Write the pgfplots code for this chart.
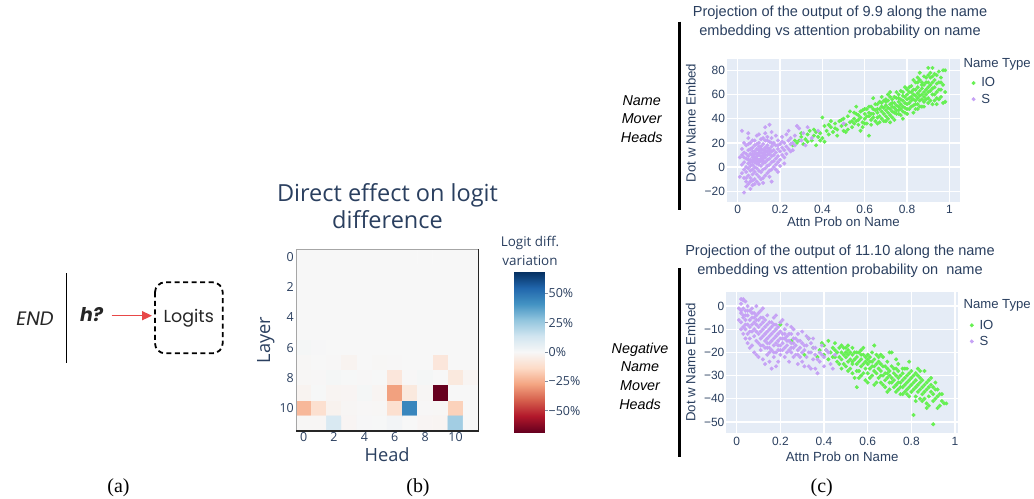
\documentclass[border=0pt]{standalone}
\usepackage{fontspec}
\setmainfont{Open Sans}
\newfontfamily\arialf{Liberation Sans}
\newfontfamily\timesf{Liberation Serif}
\newfontfamily\popf{Poppins}
\usepackage{pgfplots}
\pgfplotsset{compat=1.18}
\usetikzlibrary{arrows.meta}
\definecolor{plotbg}{RGB}{229,236,246}
\definecolor{ptxt}{RGB}{42,63,95}
\definecolor{iog}{RGB}{102,240,82}
\definecolor{spu}{RGB}{198,162,245}
\definecolor{arrowred}{RGB}{232,72,72}
\pgfplotsset{
 colormap={rdbu}{rgb255=(103,0,31) rgb255=(178,24,43) rgb255=(214,96,77) rgb255=(244,165,130) rgb255=(253,219,199) rgb255=(247,247,247) rgb255=(209,229,240) rgb255=(146,197,222) rgb255=(67,147,195) rgb255=(33,102,172) rgb255=(5,48,97)},
 scat/.style={
  scale only axis, anchor=north west,
  axis background/.style={fill=plotbg},
  axis line style={draw=none},
  tick style={draw=none},
  grid=major, grid style={white, line width=1.3bp},
  ticklabel style={font=\arialf\fontsize{12}{12}\selectfont, text=ptxt},
  yticklabel style={inner sep=1.5bp},
  label style={font=\arialf\fontsize{13.3}{13.3}\selectfont, text=ptxt},
  xtick={0,0.2,0.4,0.6,0.8,1}, xticklabels={0,0.2,0.4,0.6,0.8,1},
  xlabel={Attn Prob on Name}, ylabel={Dot w Name Embed},
  legend style={draw=none, fill=none, font=\arialf\fontsize{13.2}{13.2}\selectfont, text=ptxt, anchor=north west, row sep=1.5bp},
  legend cell align=left,
  legend image code/.code={\draw[#1] plot coordinates {(0bp,0bp)}; \path (-2bp,0bp) (5.5bp,0bp);},
 },
 iostyle/.style={only marks, mark=*, color=iog, mark size=1.8bp},
 sstyle/.style={only marks, mark=*, color=spu, mark size=1.8bp},
}
\begin{document}
\begin{tikzpicture}
\path[use as bounding box] (0,0) rectangle (1034bp,-499bp);
% ---------- panel (a)
\node[font=\popf\itshape\fontsize{19.5}{19.5}\selectfont, text=black!85] at (35bp,-319bp) {END};
\draw[line width=1.3bp] (66.7bp,-273.3bp) -- (66.7bp,-362.7bp);
\node[font=\popf\bfseries\itshape\fontsize{19}{19}\selectfont, text=black!85] at (91.7bp,-315bp) {h?};
\draw[arrowred, line width=1.5bp, -{Triangle[length=10bp,width=9bp]}] (111.7bp,-315.7bp) -- (152bp,-315.7bp);
\draw[dash pattern=on 5bp off 3.5bp, line width=1.8bp, rounded corners=10bp] (155bp,-282.3bp) rectangle (222.7bp,-353.3bp);
\node[font=\popf\fontsize{17.5}{17.5}\selectfont, text=black!85] at (188.8bp,-318bp) {Logits};
\node[font=\timesf\fontsize{20}{20}\selectfont] at (118.5bp,-488bp) {(a)};
% ---------- panel (b)
\node[align=center, font=\fontsize{23.6}{27.3}\selectfont, text=ptxt] at (387.5bp,-206bp) {Direct effect on logit\\difference};
\node[align=center, font=\fontsize{13.5}{19}\selectfont, text=ptxt] at (530bp,-251bp) {Logit diff.\\variation};
\begin{axis}[at={(296bp,-249.3bp)}, anchor=north west, scale only axis, width=182.3bp, height=181.7bp,
 xmin=-0.5, xmax=11.5, ymin=-0.5, ymax=11.5, y dir=reverse, clip=false,
 xtick={0,2,4,6,8,10}, ytick={0,2,4,6,8,10},
 /pgf/number format/assume math mode=true,
 tick style={draw=none}, axis line style={draw=none},
 ticklabel style={font=\fontsize{12.5}{12.5}\selectfont, text=ptxt},
 xticklabel style={inner sep=1bp},
 yticklabel style={inner sep=2bp},
 xlabel={Head}, ylabel={Layer},
 label style={font=\fontsize{18.3}{18.3}\selectfont, text=ptxt},
 xlabel style={at={(axis description cs:0.5,0)}, anchor=center, yshift=-24bp},
 ylabel style={at={(axis description cs:-0.166,0.5)}, anchor=center},
 point meta min=-68, point meta max=68,
]
\addplot[matrix plot*, mesh/cols=12, mesh/rows=12, point meta=explicit] coordinates {
(0,0)[0] (1,0)[0] (2,0)[0] (3,0)[0] (4,0)[0] (5,0)[0] (6,0)[0] (7,0)[0] (8,0)[0] (9,0)[0] (10,0)[0] (11,0)[0]
(0,1)[0] (1,1)[0] (2,1)[0] (3,1)[0] (4,1)[0] (5,1)[0] (6,1)[0] (7,1)[0] (8,1)[0] (9,1)[0] (10,1)[0] (11,1)[0]
(0,2)[0] (1,2)[0] (2,2)[0] (3,2)[0] (4,2)[0] (5,2)[0] (6,2)[0] (7,2)[0] (8,2)[0] (9,2)[0] (10,2)[0] (11,2)[0]
(0,3)[0] (1,3)[0] (2,3)[0] (3,3)[0] (4,3)[0] (5,3)[0] (6,3)[0] (7,3)[0] (8,3)[0] (9,3)[0] (10,3)[0] (11,3)[0]
(0,4)[0] (1,4)[0] (2,4)[0] (3,4)[0] (4,4)[0] (5,4)[0] (6,4)[0] (7,4)[0] (8,4)[0] (9,4)[0] (10,4)[0] (11,4)[0]
(0,5)[0] (1,5)[0] (2,5)[0] (3,5)[0] (4,5)[0] (5,5)[0] (6,5)[0] (7,5)[0] (8,5)[0] (9,5)[0] (10,5)[0] (11,5)[0]
(0,6)[1] (1,6)[0.5] (2,6)[0] (3,6)[0] (4,6)[0] (5,6)[0] (6,6)[0] (7,6)[0] (8,6)[0] (9,6)[0] (10,6)[0] (11,6)[0]
(0,7)[-0.5] (1,7)[0] (2,7)[-0.3] (3,7)[-2] (4,7)[0] (5,7)[-0.5] (6,7)[-0.3] (7,7)[0] (8,7)[0] (9,7)[-8] (10,7)[0] (11,7)[0]
(0,8)[-0.5] (1,8)[-0.3] (2,8)[1] (3,8)[0.3] (4,8)[-0.2] (5,8)[0.3] (6,8)[-8] (7,8)[-0.3] (8,8)[1] (9,8)[0] (10,8)[-7] (11,8)[-1.5]
(0,9)[-2] (1,9)[0.3] (2,9)[-1.5] (3,9)[-1.2] (4,9)[1] (5,9)[-1.5] (6,9)[-28] (7,9)[-7] (8,9)[-0.8] (9,9)[-68] (10,9)[0.2] (11,9)[0]
(0,10)[-22.4] (1,10)[-11] (2,10)[-2.5] (3,10)[-0.8] (4,10)[-0.3] (5,10)[-0.5] (6,10)[-11] (7,10)[44.7] (8,10)[-0.3] (9,10)[-0.5] (10,10)[-15.9] (11,10)[0]
(0,11)[-0.5] (1,11)[-0.8] (2,11)[10.7] (3,11)[-1.2] (4,11)[0.5] (5,11)[0.3] (6,11)[2] (7,11)[0] (8,11)[-1.2] (9,11)[-1.5] (10,11)[23.8] (11,11)[0]
};
\draw[gray!70, line width=1bp] (axis cs:-0.5,11.5) -- (axis cs:-0.5,-0.5) -- (axis cs:11.5,-0.5);
\draw[black!85, line width=1.2bp] (axis cs:11.5,-0.5) -- (axis cs:11.5,11.5) -- (axis cs:-0.5,11.5);
\end{axis}
% colour scale
\begin{axis}[at={(514bp,-272bp)}, anchor=north west, scale only axis, width=30bp, height=160bp,
 xmin=0, xmax=1, ymin=-68, ymax=68, xtick=\empty,
 ytick={-50,-25,0,25,50}, yticklabels={−50\%,−25\%,0\%,25\%,50\%},
 ytick pos=right, yticklabel pos=right, tick align=outside, major tick length=4bp,
 ytick style={draw=ptxt!60, line width=0.7bp}, axis line style={draw=none},
 yticklabel style={font=\fontsize{12.5}{12.5}\selectfont, text=ptxt, inner sep=0.5bp},
 point meta min=-68, point meta max=68,
]
\addplot[surf, shader=interp, mesh/rows=11, mesh/cols=2, point meta=explicit] coordinates {
(0,-68)[-68] (1,-68)[-68]
(0,-54.4)[-54.4] (1,-54.4)[-54.4]
(0,-40.8)[-40.8] (1,-40.8)[-40.8]
(0,-27.2)[-27.2] (1,-27.2)[-27.2]
(0,-13.6)[-13.6] (1,-13.6)[-13.6]
(0,0)[0] (1,0)[0]
(0,13.6)[13.6] (1,13.6)[13.6]
(0,27.2)[27.2] (1,27.2)[27.2]
(0,40.8)[40.8] (1,40.8)[40.8]
(0,54.4)[54.4] (1,54.4)[54.4]
(0,68)[68] (1,68)[68]
};
\end{axis}
\node[font=\timesf\fontsize{20}{20}\selectfont] at (418bp,-488bp) {(b)};
% ---------- panel (c) top
\draw[line width=2.5bp] (679.3bp,-21.7bp) -- (679.3bp,-210bp);
\node[align=center, font=\arialf\itshape\fontsize{14.4}{18.3}\selectfont] at (641.7bp,-119bp) {Name\\Mover\\Heads};
\node[align=center, font=\arialf\fontsize{14.6}{19}\selectfont, text=ptxt] at (840bp,-22.5bp) {Projection of the output of 9.9 along the name\\embedding vs attention probability on name};
\node[anchor=west, inner sep=0pt, font=\arialf\fontsize{13.2}{13.2}\selectfont, text=ptxt] at (963.3bp,-64bp) {Name Type};
\begin{axis}[scat, at={(726.7bp,-59.3bp)}, width=233.3bp, height=142.4bp,
 xmin=-0.052, xmax=1.05, ymin=-28.6, ymax=89.1,
 ytick={-20,0,20,40,60,80}, yticklabels={−20,0,20,40,60,80},
 xlabel style={at={(axis description cs:0.5,0)}, anchor=center, yshift=-20bp},
 ylabel style={at={(axis description cs:-0.154,0.553)}, anchor=center},
 legend style={at={(1.035,0.9)}},
]
\addplot[iostyle] coordinates {
(0.26,18) (0.27,22) (0.28,20) (0.29,22) (0.30,25) (0.31,19) (0.32,23) (0.33,27) (0.34,30) (0.35,22) (0.36,26) (0.37,18) (0.37,29) (0.38,25) (0.39,28) (0.40,41) (0.40,24) (0.41,21) (0.42,30) (0.43,27)
(0.44,33) (0.45,29) (0.46,36) (0.47,31) (0.48,38) (0.49,34) (0.50,30) (0.50,40) (0.51,35) (0.52,42) (0.53,37) (0.54,33) (0.55,40) (0.55,45) (0.56,38) (0.57,43) (0.57,35) (0.58,41) (0.59,47) (0.59,37)
(0.60,44) (0.60,40) (0.61,36) (0.61,48) (0.62,42) (0.62,26) (0.62,45) (0.63,39) (0.63,50) (0.64,44) (0.64,41) (0.65,47) (0.65,38) (0.66,52) (0.66,45) (0.67,42) (0.67,48) (0.68,46) (0.68,53) (0.68,40)
(0.69,49) (0.69,44) (0.70,51) (0.70,47) (0.70,42) (0.71,55) (0.71,49) (0.71,45) (0.72,52) (0.72,48) (0.72,43) (0.73,50) (0.73,56) (0.73,46) (0.74,53) (0.74,49) (0.74,58) (0.75,51) (0.75,47) (0.75,44)
(0.76,54) (0.76,50) (0.76,60) (0.77,52) (0.77,48) (0.77,56) (0.78,55) (0.78,50) (0.78,62) (0.78,46) (0.79,58) (0.79,53) (0.79,49) (0.80,60) (0.80,56) (0.80,52) (0.80,64) (0.81,57) (0.81,53) (0.81,48)
(0.82,62) (0.82,58) (0.82,55) (0.82,67) (0.83,60) (0.83,56) (0.83,51) (0.84,64) (0.84,59) (0.84,55) (0.84,70) (0.85,61) (0.85,57) (0.85,66) (0.85,52) (0.86,63) (0.86,59) (0.86,55) (0.86,72) (0.87,65)
(0.87,60) (0.87,56) (0.88,68) (0.88,62) (0.88,58) (0.88,54) (0.89,70) (0.89,64) (0.89,60) (0.89,56) (0.90,82) (0.90,66) (0.90,62) (0.90,57) (0.91,74) (0.91,68) (0.91,63) (0.91,55) (0.92,82) (0.92,70)
(0.92,65) (0.92,52) (0.93,72) (0.93,66) (0.93,60) (0.94,76) (0.94,69) (0.94,62) (0.95,79) (0.95,70) (0.95,56) (0.96,74) (0.96,64) (0.97,80) (0.97,53) (0.98,80) (0.98,54) (0.88,75) (0.86,78) (0.83,72)
(0.79,66) (0.75,62) (0.72,58) (0.69,55) (0.66,36) (0.58,30) (0.64,57) (0.53,46) (0.47,26) (0.44,38) (0.51,29) (0.56,50) (0.60,36) (0.67,54) (0.70,38) (0.73,41) (0.76,44) (0.81,62) (0.84,48) (0.87,50)
(0.90,70) (0.93,55) (0.85,74) (0.77,63) (0.71,60)
(0.55,36) (0.56,44) (0.58,46) (0.59,33) (0.61,42) (0.62,50) (0.63,35) (0.64,48) (0.65,52) (0.66,41) (0.67,37) (0.68,58) (0.69,38) (0.70,56) (0.71,40) (0.72,62) (0.73,53) (0.74,45) (0.75,57) (0.76,47)
(0.77,43) (0.78,59) (0.79,45) (0.80,48) (0.81,66) (0.82,50) (0.83,64) (0.84,52) (0.85,70) (0.86,50) (0.87,70) (0.88,50) (0.89,74) (0.90,53) (0.91,78) (0.92,60) (0.93,77) (0.94,57) (0.95,64) (0.96,58)
(0.97,68) (0.98,62) (0.96,70) (0.94,52) (0.92,75) (0.90,76) (0.87,68) (0.85,48) (0.83,45) (0.80,44) (0.78,40) (0.76,57) (0.74,39) (0.72,37) (0.70,54) (0.68,50) (0.66,48) (0.63,44) (0.60,48) (0.57,39)
(0.54,38) (0.52,31) (0.49,39) (0.46,32) (0.43,35) (0.41,34) (0.39,22) (0.36,31) (0.33,21) (0.30,28)
};
\addlegendentry{IO}
\addplot[sstyle] coordinates {
(0.02,30) (0.03,-21) (0.06,-18) (0.01,8) (0.02,2) (0.02,-5) (0.03,12) (0.03,4) (0.03,-2) (0.03,-9) (0.04,18) (0.04,7) (0.04,0) (0.04,-4) (0.04,-12) (0.05,24) (0.05,14) (0.05,9) (0.05,3) (0.05,-1)
(0.05,-7) (0.05,-14) (0.06,20) (0.06,11) (0.06,6) (0.06,1) (0.06,-3) (0.06,-9) (0.07,16) (0.07,10) (0.07,5) (0.07,2) (0.07,-2) (0.07,-6) (0.07,22) (0.08,13) (0.08,8) (0.08,4) (0.08,0) (0.08,-4)
(0.08,-10) (0.08,18) (0.09,26) (0.09,15) (0.09,11) (0.09,7) (0.09,3) (0.09,-1) (0.09,-6) (0.10,20) (0.10,14) (0.10,10) (0.10,6) (0.10,2) (0.10,-3) (0.10,-8) (0.11,17) (0.11,12) (0.11,9) (0.11,5)
(0.11,1) (0.11,-4) (0.11,23) (0.12,19) (0.12,14) (0.12,11) (0.12,7) (0.12,3) (0.12,-2) (0.12,-9) (0.13,22) (0.13,16) (0.13,12) (0.13,8) (0.13,4) (0.13,-1) (0.13,28) (0.14,18) (0.14,13) (0.14,10)
(0.14,6) (0.14,1) (0.14,-5) (0.15,35) (0.15,21) (0.15,15) (0.15,11) (0.15,7) (0.15,2) (0.15,-3) (0.16,24) (0.16,17) (0.16,13) (0.16,9) (0.16,4) (0.16,-12) (0.17,20) (0.17,14) (0.17,10) (0.17,5)
(0.17,0) (0.18,26) (0.18,18) (0.18,12) (0.18,7) (0.18,2) (0.19,22) (0.19,15) (0.19,9) (0.19,-4) (0.20,19) (0.20,13) (0.20,6) (0.21,25) (0.21,16) (0.21,10) (0.22,20) (0.22,14) (0.22,3) (0.23,27)
(0.23,17) (0.23,11) (0.24,22) (0.24,15) (0.25,19) (0.25,24) (0.26,20) (0.26,14) (0.27,26) (0.28,34) (0.30,22) (0.31,28) (0.33,33) (0.35,24) (0.32,18) (0.38,30) (0.05,28) (0.08,-14) (0.12,-13) (0.04,-9)
(0.06,-12) (0.02,15) (0.13,33) (0.10,27) (0.15,-8) (0.07,-11) (0.18,-2) (0.01,-8) (0.03,20) (0.11,-10) (0.14,25) (0.09,-12) (0.20,1) (0.16,29) (0.12,24) (0.50,36) (0.24,30) (0.29,32)
(0.06,15) (0.07,13) (0.08,11) (0.09,9) (0.10,12) (0.11,15) (0.12,9) (0.13,14) (0.14,16) (0.15,13) (0.08,6) (0.09,5) (0.10,4) (0.11,7) (0.12,5) (0.13,10) (0.07,8) (0.06,4) (0.05,6) (0.04,11)
(0.05,19) (0.17,19) (0.19,18) (0.21,21) (0.16,20) (0.14,22) (0.10,17) (0.09,19) (0.08,22) (0.03,8) (0.02,10) (0.04,-16) (0.07,-15) (0.10,-14) (0.13,-7) (0.16,-2) (0.19,4) (0.22,8) (0.25,13) (0.27,18)
};
\addlegendentry{S}
\end{axis}
% ---------- panel (c) bottom
\draw[line width=2.5bp] (679.3bp,-268bp) -- (679.3bp,-456.7bp);
\node[align=center, font=\arialf\itshape\fontsize{14.4}{18.7}\selectfont] at (640bp,-376bp) {Negative\\Name\\Mover\\Heads};
\node[align=center, font=\arialf\fontsize{14.6}{19}\selectfont, text=ptxt] at (840bp,-261.2bp) {Projection of the output of 11.10 along the name\\embedding vs attention probability on\ \ name};
\node[anchor=west, inner sep=0pt, font=\arialf\fontsize{13.2}{13.2}\selectfont, text=ptxt] at (963.3bp,-305.7bp) {Name Type};
\begin{axis}[scat, at={(726bp,-291.7bp)}, width=232.3bp, height=141.6bp,
 xmin=-0.049, xmax=1.015, ymin=-54.9, ymax=6.2,
 ytick={-50,-40,-30,-20,-10,0}, yticklabels={−50,−40,−30,−20,−10,0},
 xlabel style={at={(axis description cs:0.5,0)}, anchor=center, yshift=-23bp},
 ylabel style={at={(axis description cs:-0.152,0.5)}, anchor=center},
 legend style={at={(1.035,0.83)}},
]
\addplot[iostyle] coordinates {
(0.20,-8) (0.25,-15) (0.31,-21) (0.33,-14) (0.35,-18) (0.37,-22) (0.38,-19) (0.39,-16) (0.40,-21) (0.40,-17) (0.41,-19) (0.42,-23) (0.42,-15) (0.43,-20) (0.44,-22) (0.44,-18) (0.45,-22) (0.45,-19) (0.46,-20) (0.46,-24)
(0.47,-18) (0.47,-22) (0.48,-23) (0.48,-20) (0.48,-17) (0.49,-21) (0.49,-25) (0.50,-18) (0.50,-22) (0.50,-26) (0.51,-19) (0.51,-21) (0.51,-24) (0.52,-20) (0.52,-23) (0.52,-27) (0.53,-18) (0.53,-21) (0.53,-25) (0.54,-20)
(0.54,-23) (0.54,-31) (0.55,-22) (0.55,-25) (0.55,-35) (0.56,-20) (0.56,-24) (0.56,-28) (0.57,-19) (0.57,-23) (0.57,-26) (0.58,-21) (0.58,-25) (0.58,-29) (0.59,-22) (0.59,-27) (0.59,-32) (0.60,-21) (0.60,-25) (0.60,-29)
(0.61,-24) (0.61,-27) (0.61,-31) (0.62,-20) (0.62,-26) (0.62,-30) (0.63,-23) (0.63,-28) (0.63,-17) (0.64,-25) (0.64,-29) (0.64,-21) (0.65,-27) (0.65,-31) (0.65,-24) (0.66,-28) (0.66,-33) (0.67,-26) (0.67,-30) (0.67,-22)
(0.68,-29) (0.68,-32) (0.68,-35) (0.69,-27) (0.69,-31) (0.69,-24) (0.70,-30) (0.70,-33) (0.70,-28) (0.71,-26) (0.71,-31) (0.71,-20) (0.72,-29) (0.72,-32) (0.72,-35) (0.73,-30) (0.73,-34) (0.73,-27) (0.74,-31) (0.74,-36)
(0.74,-28) (0.75,-33) (0.75,-30) (0.75,-38) (0.76,-29) (0.76,-32) (0.76,-35) (0.77,-31) (0.77,-34) (0.77,-27) (0.78,-33) (0.78,-36) (0.78,-30) (0.79,-32) (0.79,-35) (0.79,-24) (0.80,-34) (0.80,-37) (0.80,-31) (0.81,-33)
(0.81,-36) (0.81,-47) (0.82,-35) (0.82,-32) (0.82,-39) (0.83,-34) (0.83,-37) (0.83,-30) (0.84,-36) (0.84,-33) (0.84,-40) (0.85,-35) (0.85,-38) (0.86,-34) (0.86,-37) (0.86,-28) (0.87,-36) (0.87,-42) (0.88,-35) (0.88,-39)
(0.89,-37) (0.89,-34) (0.90,-38) (0.90,-51) (0.90,-41) (0.91,-36) (0.91,-33) (0.92,-39) (0.92,-44) (0.93,-38) (0.94,-41) (0.95,-42) (0.96,-42) (0.87,-44) (0.85,-41) (0.79,-39) (0.76,-38) (0.73,-23) (0.66,-21) (0.70,-20)
(0.57,-30) (0.63,-34) (0.69,-37) (0.74,-25) (0.78,-27) (0.82,-29) (0.84,-31) (0.88,-32) (0.66,-25) (0.60,-33)
(0.45,-16) (0.47,-25) (0.49,-18) (0.51,-28) (0.53,-29) (0.55,-20) (0.56,-31) (0.58,-18) (0.60,-23) (0.62,-24) (0.64,-33) (0.66,-30) (0.68,-26) (0.70,-36) (0.72,-27) (0.74,-33) (0.76,-27) (0.78,-38) (0.80,-28) (0.82,-41)
(0.84,-28) (0.86,-40) (0.88,-43) (0.90,-35) (0.92,-36) (0.94,-38) (0.93,-43) (0.91,-40) (0.89,-31) (0.87,-33) (0.85,-32) (0.83,-27) (0.81,-30) (0.79,-29) (0.77,-37) (0.75,-35) (0.73,-37) (0.71,-33) (0.69,-29) (0.67,-34)
(0.65,-22) (0.63,-26) (0.61,-22) (0.59,-24) (0.57,-21) (0.55,-28) (0.53,-24) (0.51,-17) (0.50,-20) (0.48,-27)
};
\addlegendentry{IO}
\addplot[sstyle] coordinates {
(0.01,-1) (0.01,-6) (0.02,1) (0.02,-3) (0.02,-7) (0.03,3) (0.03,-1) (0.03,-5) (0.03,-9) (0.04,2) (0.04,-2) (0.04,-6) (0.04,-10) (0.05,0) (0.05,-4) (0.05,-8) (0.05,-12) (0.06,-2) (0.06,-6) (0.06,-9)
(0.06,-14) (0.07,-1) (0.07,-5) (0.07,-8) (0.07,-11) (0.07,-17) (0.08,-3) (0.08,-7) (0.08,-10) (0.08,-13) (0.09,-4) (0.09,-8) (0.09,-11) (0.09,-15) (0.09,-21) (0.10,-6) (0.10,-9) (0.10,-12) (0.10,-16) (0.11,-5)
(0.11,-8) (0.11,-11) (0.11,-14) (0.11,-19) (0.12,-7) (0.12,-10) (0.12,-13) (0.12,-17) (0.12,-23) (0.13,-6) (0.13,-9) (0.13,-12) (0.13,-15) (0.14,-8) (0.14,-11) (0.14,-14) (0.14,-18) (0.14,-21) (0.15,-7) (0.15,-10)
(0.15,-13) (0.15,-16) (0.15,-20) (0.16,-9) (0.16,-12) (0.16,-15) (0.16,-19) (0.17,-8) (0.17,-11) (0.17,-14) (0.17,-17) (0.17,-22) (0.18,-10) (0.18,-13) (0.18,-16) (0.18,-20) (0.18,-26) (0.19,-9) (0.19,-12) (0.19,-15)
(0.19,-19) (0.20,-11) (0.20,-14) (0.20,-17) (0.20,-21) (0.21,-12) (0.21,-16) (0.21,-19) (0.22,-10) (0.22,-14) (0.22,-18) (0.22,-22) (0.23,-13) (0.23,-17) (0.23,-20) (0.24,-15) (0.24,-19) (0.24,-24) (0.25,-12) (0.25,-16)
(0.25,-20) (0.26,-14) (0.26,-18) (0.26,-22) (0.27,-17) (0.27,-21) (0.28,-15) (0.28,-19) (0.28,-25) (0.29,-18) (0.29,-22) (0.30,-16) (0.30,-20) (0.31,-19) (0.31,-26) (0.32,-17) (0.32,-22) (0.33,-14) (0.33,-26) (0.34,-20)
(0.34,-27) (0.35,-23) (0.35,-18) (0.36,-27) (0.36,-21) (0.37,-29) (0.38,-20) (0.38,-24) (0.39,-17) (0.40,-22) (0.41,-19) (0.43,-25) (0.45,-21) (0.03,-12) (0.06,-18) (0.08,-20) (0.05,-16) (0.10,-22) (0.13,-25) (0.15,-24)
(0.16,-27) (0.19,-24) (0.11,-2) (0.14,-4) (0.17,-5) (0.20,-7) (0.25,-9) (0.28,-12) (0.30,-11) (0.12,-1) (0.09,0) (0.23,-8) (0.21,-6) (0.18,-4) (0.26,-10) (0.32,-13) (0.35,-14) (0.03,2.5) (0.02,-10) (0.04,-14)
(0.02,-2) (0.03,-4) (0.04,-8) (0.05,-2) (0.06,-11) (0.07,-3) (0.08,-5) (0.09,-6) (0.10,-3) (0.11,-17) (0.12,-5) (0.13,-18) (0.14,-16) (0.15,-18) (0.16,-7) (0.17,-20) (0.18,-8) (0.19,-17) (0.20,-19) (0.21,-14)
(0.22,-12) (0.23,-15) (0.24,-12) (0.25,-18) (0.26,-16) (0.27,-14) (0.28,-21) (0.29,-15) (0.30,-24) (0.31,-17) (0.33,-20) (0.34,-16) (0.36,-18) (0.37,-23) (0.39,-21) (0.40,-26) (0.42,-20) (0.44,-27) (0.02,3) (0.04,-4)
};
\addlegendentry{S}
\end{axis}
\node[font=\timesf\fontsize{20}{20}\selectfont] at (821.7bp,-488bp) {(c)};
\end{tikzpicture}
\end{document}
